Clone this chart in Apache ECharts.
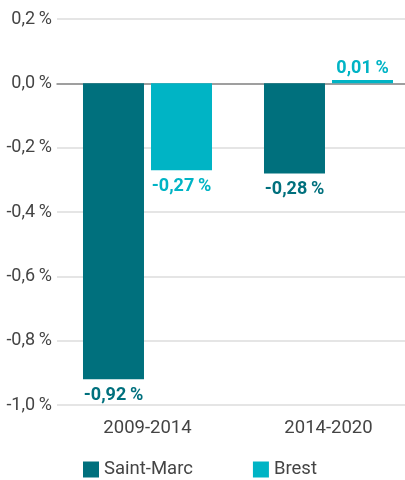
<!DOCTYPE html>
<html>
<head>
<meta charset="utf-8">
<script src="https://cdn.jsdelivr.net/npm/echarts@6/dist/echarts.min.js"></script>
<style>
html,body{margin:0;padding:0;background:#fff;}
#chart{width:405px;height:480px;}
</style>
</head>
<body>
<div id="chart"></div>
<script>
const categories = ['2009-2014', '2014-2020'];
const seriesNames = ['Saint-Marc', 'Brest'];
const saintMarc = [-0.92, -0.28];
const brest = [-0.27, 0.01];
const colors = ['#00707d', '#00b4c5'];

function fmt(v, digits) {
  if (Math.abs(v) < 1e-9) v = 0;
  return v.toFixed(digits).replace('.', ',') + '\u2009%';
}

function makeSeries(name, values, color) {
  return {
    name: name,
    type: 'bar',
    barWidth: 61,
    barGap: '11.5%',
    itemStyle: { color: color },
    data: values.map(v => ({
      value: v,
      label: { position: v < 0 ? 'bottom' : 'top', distance: v < 0 ? 7 : 3 }
    })),
    label: {
      show: true,
      color: color,
      fontFamily: 'Roboto',
      fontWeight: 'bold',
      fontSize: 18,
      formatter: p => fmt(p.value, 2)
    }
  };
}

const chart = echarts.init(document.getElementById('chart'), null, { renderer: 'canvas' });
chart.setOption({
  animation: false,
  textStyle: { fontFamily: 'Roboto' },
  grid: { left: 57, top: 19, width: 362, height: 386, containLabel: false, outerBoundsMode: 'none' },
  legend: {
    left: 83,
    top: 460,
    padding: 0,
    itemWidth: 16,
    itemHeight: 16,
    itemGap: 60,
    icon: 'rect',
    textStyle: { color: '#444', fontSize: 18.5, fontFamily: 'Roboto', padding: [0, 0, 0, 0] },
    data: seriesNames
  },
  xAxis: {
    type: 'category',
    data: categories,
    axisTick: { show: false },
    axisLine: { onZero: true, lineStyle: { color: '#888', width: 1.5 } },
    axisLabel: { color: '#444', fontSize: 18.5, margin: 14, fontFamily: 'Roboto' }
  },
  yAxis: {
    type: 'value',
    min: -1,
    max: 0.2,
    interval: 0.2,
    axisLine: { show: false },
    axisTick: { show: false },
    splitLine: { lineStyle: { color: '#ddd', width: 1.5 } },
    axisLabel: { color: '#444', fontSize: 18, margin: 5, fontFamily: 'Roboto', formatter: v => fmt(v, 1) }
  },
  series: [
    makeSeries(seriesNames[0], saintMarc, colors[0]),
    makeSeries(seriesNames[1], brest, colors[1])
  ]
});
</script>
</body>
</html>
